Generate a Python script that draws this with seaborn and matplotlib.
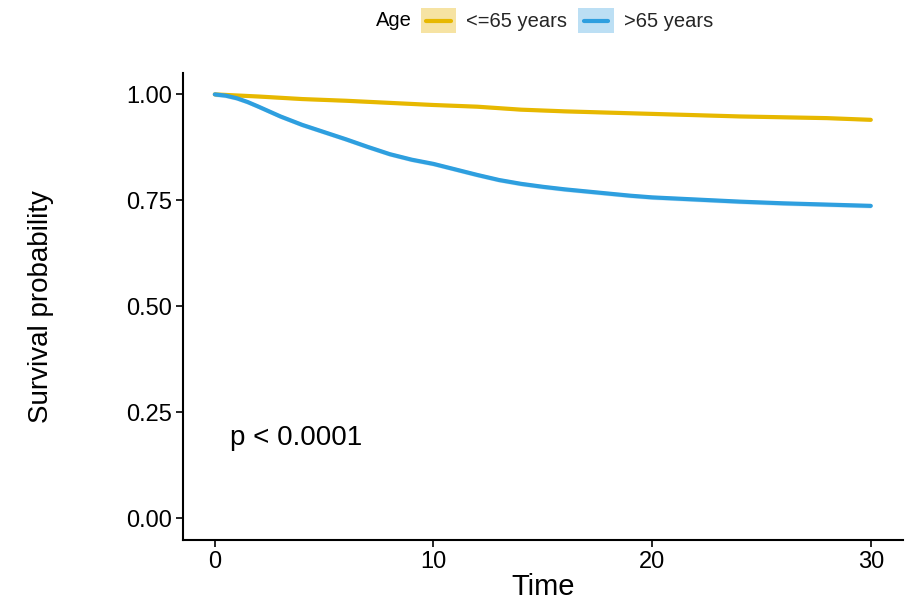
import matplotlib
matplotlib.use("Agg")
import matplotlib.pyplot as plt
import seaborn as sns
import pandas as pd
from matplotlib.patches import Patch, Rectangle
from matplotlib.lines import Line2D
from matplotlib.legend_handler import HandlerBase

sns.set_theme(style="ticks")
plt.rcParams["font.family"] = ["Liberation Sans", "DejaVu Sans"]

# Kaplan-Meier survival estimates by age group
time_young = [0, 2, 4, 6, 8, 10, 12, 14, 16, 18, 20, 22, 24, 26, 28, 30]
surv_young = [1.0, 0.995, 0.989, 0.985, 0.980, 0.975, 0.971, 0.964, 0.960,
              0.957, 0.954, 0.951, 0.948, 0.946, 0.944, 0.940]

time_old = [0, 0.5, 1, 1.5, 2, 3, 4, 5, 6, 7, 8, 9, 10, 11, 12, 13, 14, 15, 16,
            17, 18, 19, 20, 22, 24, 26, 28, 30]
surv_old = [1.0, 0.997, 0.991, 0.982, 0.971, 0.948, 0.928, 0.911, 0.894,
            0.876, 0.859, 0.846, 0.836, 0.823, 0.810, 0.798, 0.789, 0.782,
            0.776, 0.771, 0.766, 0.761, 0.757, 0.752, 0.747, 0.743, 0.740,
            0.737]

group_labels = ["<=65 years", ">65 years"]
colors = ["#E7B800", "#2E9FDF"]
band_colors = ["#F6E3A3", "#BCDFF4"]
ci_half_width = [0.003, 0.005]

df = pd.concat([
    pd.DataFrame({"Time": time_young, "Survival": surv_young, "Age": group_labels[0]}),
    pd.DataFrame({"Time": time_old, "Survival": surv_old, "Age": group_labels[1]}),
])


class BandLineHandler(HandlerBase):
    """Legend key: shaded band box with a shorter line across its middle."""

    def create_artists(self, legend, orig_handle, xdescent, ydescent,
                       width, height, fontsize, trans):
        band, line = orig_handle
        rect = Rectangle((-xdescent, -ydescent), width, height,
                         facecolor=band, edgecolor="none", transform=trans)
        inset = width * 0.15
        y = -ydescent + height / 2
        ln = Line2D([-xdescent + inset, -xdescent + width - inset], [y, y],
                    color=line, linewidth=3, transform=trans)
        return [rect, ln]


fig = plt.figure(figsize=(9.1, 6.05), dpi=100)
ax = fig.add_axes([0.201, 0.107, 0.791, 0.772])

for lab, col, hw in zip(group_labels, colors, ci_half_width):
    sub = df[df["Age"] == lab]
    ax.fill_between(sub["Time"], sub["Survival"] - hw, sub["Survival"] + hw,
                    color=col, alpha=0.25, linewidth=0)

sns.lineplot(data=df, x="Time", y="Survival", hue="Age", hue_order=group_labels,
             palette=colors, linewidth=3, legend=False, ax=ax, estimator=None)

ax.set_xlim(-1.46, 31.46)
ax.set_ylim(-0.052, 1.05)
ax.set_xticks([0, 10, 20, 30])
ax.set_yticks([0, 0.25, 0.5, 0.75, 1.0])
ax.set_yticklabels(["0.00", "0.25", "0.50", "0.75", "1.00"])
ax.tick_params(axis="both", labelsize=17, color="black", labelcolor="black",
               length=5, width=1.2, pad=3)
for s in ["top", "right"]:
    ax.spines[s].set_visible(False)
for s in ["left", "bottom"]:
    ax.spines[s].set_color("black")
    ax.spines[s].set_linewidth(1.5)

ax.set_xlabel("Time", fontsize=21, color="black", labelpad=0)
ax.set_ylabel("Survival probability", fontsize=20, color="black", labelpad=52)

ax.text(0.7, 0.19, "p < 0.0001", fontsize=20, color="black", va="center", ha="left")

handles = [(b, c) for b, c in zip(band_colors, colors)]
fig.text(0.433, 0.966, "Age", fontsize=14.5, va="center", ha="center", color="black")
fig.legend(handles, group_labels, loc="center", bbox_to_anchor=(0.623, 0.966), ncol=2,
           frameon=False, fontsize=14.5, handlelength=1.75, handleheight=1.5,
           handletextpad=0.5, columnspacing=0.55, borderaxespad=0,
           handler_map={tuple: BandLineHandler()})

fig.savefig("out.png", dpi=100)
